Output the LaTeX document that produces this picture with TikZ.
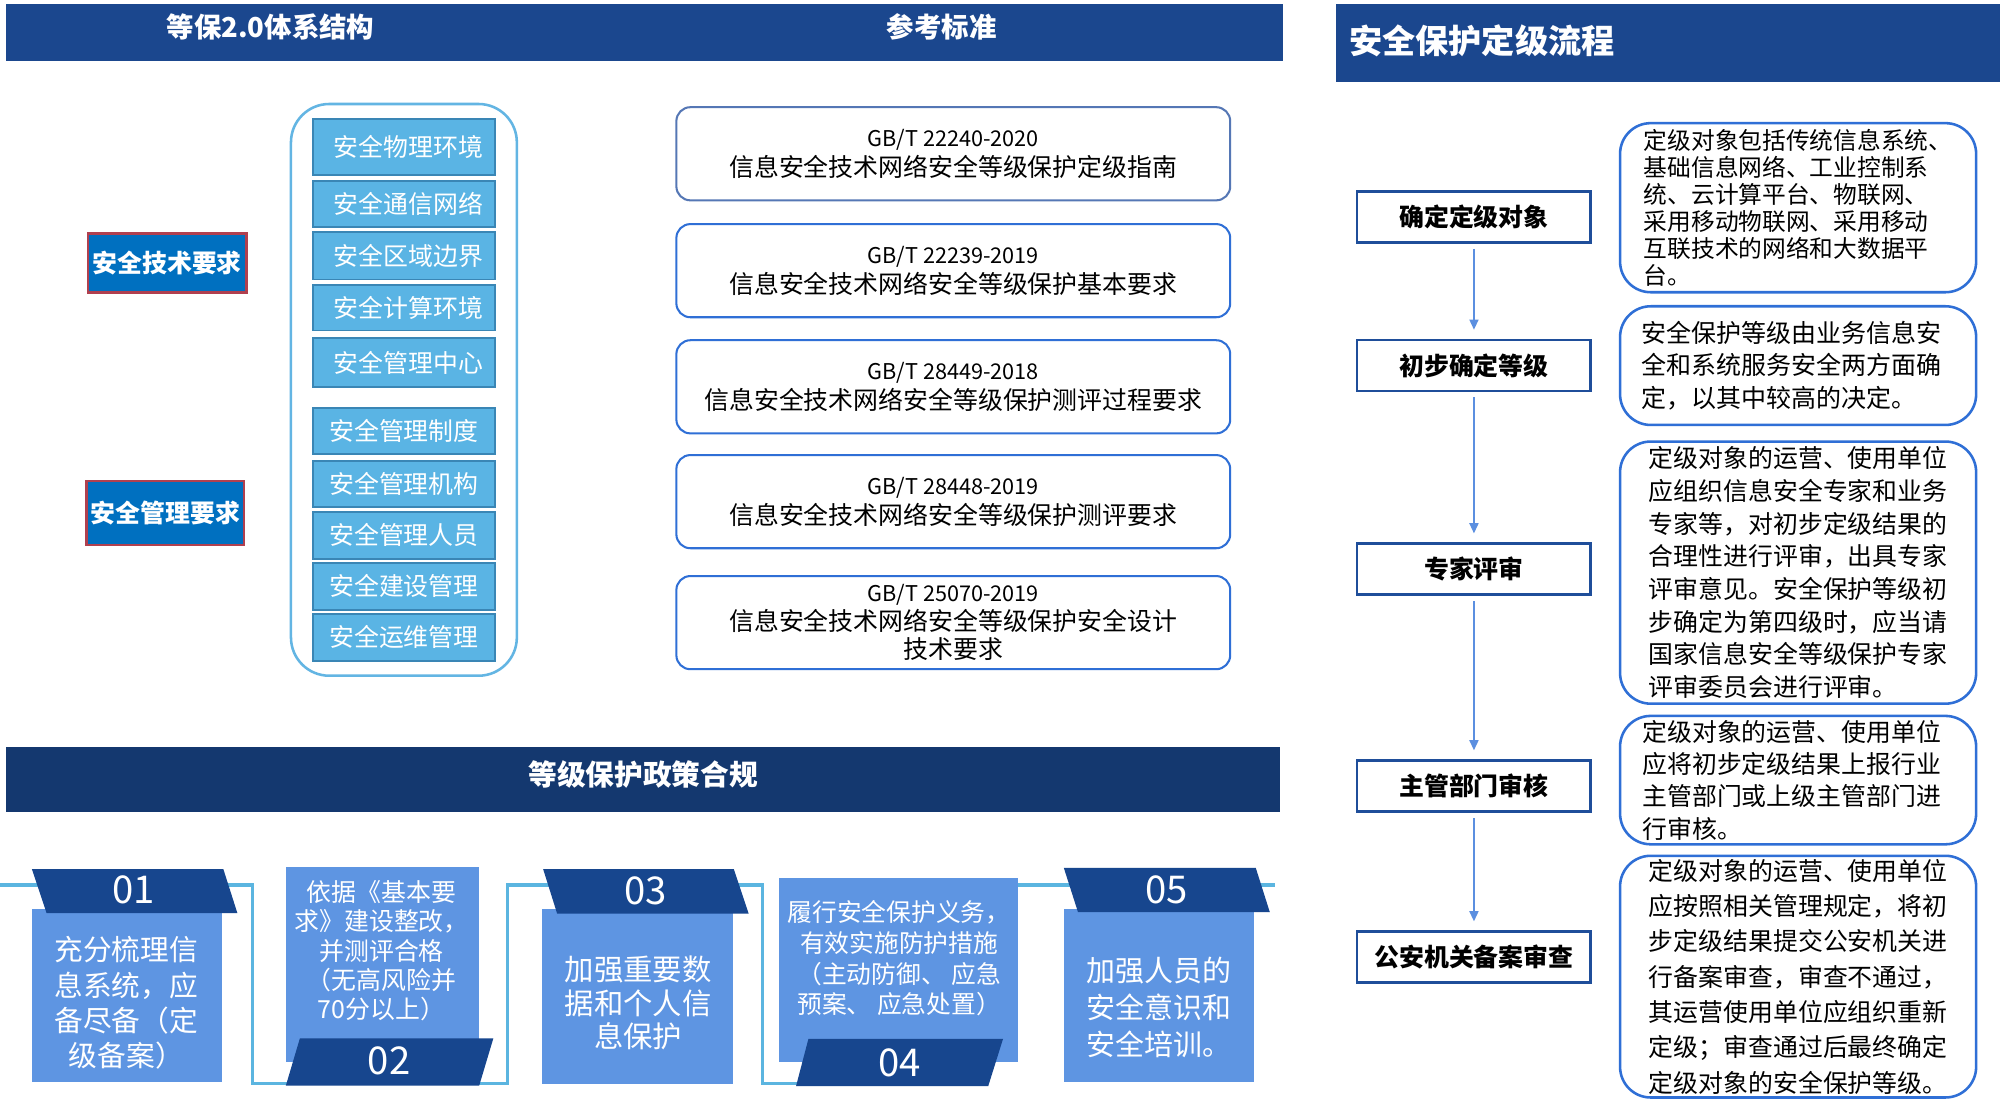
\documentclass[tikz,border=0pt]{standalone}
\usepackage{fontspec}
\setmainfont{Noto Sans CJK SC}
\usepackage{tikz}
\usepackage{xcolor}
\usetikzlibrary{shapes,arrows,positioning,backgrounds,fit,arrows.meta}

\definecolor{barblue}{HTML}{1B478E}
\definecolor{bardark}{HTML}{14386F}
\definecolor{cardblue}{HTML}{5E95E2}
\definecolor{tagblue}{HTML}{17468E}
\definecolor{lineblue}{HTML}{5BB5E0}
\definecolor{itemfill}{HTML}{5AB4E4}
\definecolor{itemedge}{HTML}{3A86B5}
\definecolor{groupedge}{HTML}{63B5E3}
\definecolor{reqfill}{HTML}{0070C0}
\definecolor{reqedge}{HTML}{B0404F}
\definecolor{stdedgeA}{HTML}{5577B5}
\definecolor{stdedge}{HTML}{2F6FD6}
\definecolor{stepedge}{HTML}{1F4E9A}
\definecolor{arrowblue}{HTML}{5B8FE0}

\newcommand{\gbfont}{\fontsize{17}{23.5}\selectfont}

\tikzset{
    bartitle/.style={text=white, font=\bfseries\fontsize{21.5}{21.5}\selectfont},
    partbox/.style={rectangle, draw=itemedge, line width=1.5pt, fill=itemfill, text=white,
                    minimum width=143pt, inner ysep=0pt, outer sep=0pt,
                    font=\fontsize{19.5}{19.5}\selectfont},
    reqbox/.style={rectangle, draw=reqedge, line width=2pt, fill=reqfill, text=white,
                   font=\bfseries\fontsize{19.5}{19.5}\selectfont},
    stdbox/.style={rectangle, draw=stdedge, line width=1.6pt, rounded corners=11pt,
                   minimum width=434pt, minimum height=73pt, align=center,
                   inner sep=0pt, outer sep=0pt, font=\fontsize{19.5}{23.5}\selectfont},
    stepbox/.style={rectangle, draw=stepedge, line width=2pt, fill=white,
                    minimum width=183pt, minimum height=40pt, inner ysep=0pt, outer sep=0pt,
                    font=\bfseries\fontsize{19.5}{19.5}\selectfont},
    nextarrow/.style={-{Triangle[width=7pt,length=8pt]}, draw=arrowblue, line width=1.5pt,
                      shorten <=5pt, shorten >=8pt},
    descbox/.style={rectangle, draw=stdedge, line width=2pt, rounded corners=24pt,
                    minimum width=279pt, outer sep=0pt},
    desctext/.style={align=left, inner sep=0pt},
    cardbody/.style={rectangle, fill=cardblue, inner sep=0pt},
    cardtext/.style={text=white, align=center, inner sep=0pt},
    tagnum/.style={text=white, font=\fontsize{30}{30}\selectfont, inner sep=0pt},
    flow/.style={draw=lineblue, line width=2.5pt}
}

\begin{document}
\begin{tikzpicture}[x=1pt, y=-1pt]
    \useasboundingbox (0,0) rectangle (1568,866);
    \begin{scope}[on background layer]
        \fill[white] (0,0) rectangle (1568,866);
    \end{scope}

    % Title bars
    \fill[barblue] (5,3) rectangle (1005,48);
    \fill[barblue] (1047,3) rectangle (1567,64);
    \fill[bardark] (5,585) rectangle (1003,636);
    \node[bartitle] (archtitle) at (212,21) {等保2.0体系结构};
    \node[bartitle] (stdtitle) at (738,21) {参考标准};
    \node[bartitle, anchor=west, inner sep=0pt, font=\bfseries\fontsize{26}{26}\selectfont]
        (flowtitle) at (1057,32) {安全保护定级流程};
    \node[bartitle, font=\bfseries\fontsize{22.5}{22.5}\selectfont]
        (policytitle) at (504,607) {等级保护政策合规};

    % Requirement groups
    \node[reqbox, minimum width=124pt, minimum height=46pt] (tech) at (131,206) {安全技术要求};
    \node[reqbox, minimum width=123pt, minimum height=50pt] (mgmt) at (129.5,402) {安全管理要求};

    % Control areas
    \node[partbox, minimum height=44pt] (p1) at (316.5,115) {\hspace*{7pt}安全物理环境};
    \node[partbox, minimum height=36pt, below=5pt of p1] (p2) {\hspace*{7pt}安全通信网络};
    \node[partbox, minimum height=37pt, below=4pt of p2] (p3) {\hspace*{7pt}安全区域边界};
    \node[partbox, minimum height=36pt, below=4pt of p3] (p4) {\hspace*{7pt}安全计算环境};
    \node[partbox, minimum height=38pt, below=6pt of p4] (p5) {\hspace*{7pt}安全管理中心};
    \node[partbox, minimum height=36pt, below=17pt of p5] (p6) {安全管理制度};
    \node[partbox, minimum height=36pt, below=5pt of p6] (p7) {安全管理机构};
    \node[partbox, minimum height=37pt, below=4pt of p7] (p8) {安全管理人员};
    \node[partbox, minimum height=37pt, below=3pt of p8] (p9) {安全建设管理};
    \node[partbox, minimum height=37pt, below=3pt of p9] (p10) {安全运维管理};
    \node[fit=(p1)(p10), draw=groupedge, line width=2pt, rounded corners=30pt,
          inner xsep=17pt, inner ysep=11.5pt] (group) {};

    % Reference standards
    \node[stdbox, draw=stdedgeA] (std1) at (747,120.5)
        {{\gbfont GB/T 22240-2020}\\信息安全技术网络安全等级保护定级指南};
    \node[stdbox, below=18.6pt of std1] (std2)
        {{\gbfont GB/T 22239-2019}\\信息安全技术网络安全等级保护基本要求};
    \node[stdbox, below=18pt of std2] (std3)
        {{\gbfont GB/T 28449-2018}\\信息安全技术网络安全等级保护测评过程要求};
    \node[stdbox, below=17pt of std3] (std4)
        {{\gbfont GB/T 28448-2019}\\信息安全技术网络安全等级保护测评要求};
    \node[stdbox, below=21.8pt of std4, font=\fontsize{19.5}{22.5}\selectfont] (std5)
        {{\fontsize{17}{22.5}\selectfont GB/T 25070-2019}\\信息安全技术网络安全等级保护安全设计\\技术要求};

    % Grading steps
    \node[stepbox] (s1) at (1155,170) {确定定级对象};
    \node[stepbox, below=76.4pt of s1] (s2) {初步确定等级};
    \node[stepbox, below=119.6pt of s2] (s3) {专家评审};
    \node[stepbox, below=130pt of s3] (s4) {主管部门审核};
    \node[stepbox, below=94pt of s4] (s5) {公安机关备案审查};
    \draw[nextarrow] (s1) -- (s2);
    \draw[nextarrow] (s2) -- (s3);
    \draw[nextarrow] (s3) -- (s4);
    \draw[nextarrow] (s4) -- (s5);

    % Step notes
    \node[descbox, minimum height=132.5pt] (d1) at (1409,162.75) {};
    \node[descbox, minimum height=93pt, below=11pt of d1] (d2) {};
    \node[descbox, minimum height=205.4pt, below=13pt of d2] (d3) {};
    \node[descbox, minimum height=100.6pt, below=9.6pt of d3] (d4) {};
    \node[descbox, minimum height=189.4pt, below=9pt of d4] (d5) {};
    \node[desctext, font=\fontsize{18.6}{21.2}\selectfont] (d1text) at (d1)
        {定级对象包括传统信息系统、\\基础信息网络、工业控制系\\统、云计算平台、物联网、\\采用移动物联网、采用移动\\互联技术的网络和大数据平\\台。};
    \node[desctext, font=\fontsize{19.6}{25.2}\selectfont, xshift=-5pt] (d2text) at (d2)
        {安全保护等级由业务信息安\\全和系统服务安全两方面确\\定，以其中较高的决定。};
    \node[desctext, font=\fontsize{19.5}{25.6}\selectfont] (d3text) at (d3)
        {定级对象的运营、使用单位\\应组织信息安全专家和业务\\专家等，对初步定级结果的\\合理性进行评审，出具专家\\评审意见。安全保护等级初\\步确定为第四级时，应当请\\国家信息安全等级保护专家\\评审委员会进行评审。};
    \node[desctext, font=\fontsize{19.5}{25.3}\selectfont, xshift=-5pt] (d4text) at (d4)
        {定级对象的运营、使用单位\\应将初步定级结果上报行业\\主管部门或上级主管部门进\\行审核。};
    \node[desctext, font=\fontsize{19.5}{27.7}\selectfont] (d5text) at (d5)
        {定级对象的运营、使用单位\\应按照相关管理规定，将初\\步定级结果提交公安机关进\\行备案审查，审查不通过，\\其运营使用单位应组织重新\\定级；审查通过后最终确定\\定级对象的安全保护等级。};

    % Policy cards
    \node[cardbody, minimum width=148.9pt, minimum height=136pt] (c1) at (99.15,780) {};
    \node[cardbody, minimum width=151.5pt, minimum height=152.5pt] (c2) at (299.75,755.75) {};
    \node[cardbody, minimum width=149.5pt, minimum height=137.6pt] (c3) at (499.75,780.8) {};
    \node[cardbody, minimum width=187.2pt, minimum height=144.3pt] (c4) at (704.4,759.85) {};
    \node[cardbody, minimum width=149pt, minimum height=135.6pt] (c5) at (908.1,779.8) {};
    \fill[tagblue] (25,681) -- (175,681) -- (186,715.5) -- (36.5,715.5) -- cycle;
    \fill[tagblue] (235,813.6) -- (386.6,813.6) -- (375.5,850.7) -- (224,850.7) -- cycle;
    \fill[tagblue] (425.6,681) -- (575,681) -- (586.7,716) -- (436.6,716) -- cycle;
    \fill[tagblue] (633.5,814) -- (786,814) -- (774.4,851) -- (623.8,851) -- cycle;
    \fill[tagblue] (833.6,680) -- (984,680) -- (995,714.7) -- (844.7,714.7) -- cycle;
    \node[tagnum] (n1) at (104.5,697.5) {01};
    \node[tagnum] (n2) at (305,831) {02};
    \node[tagnum] (n3) at (506,698) {03};
    \node[tagnum] (n4) at (705,833) {04};
    \node[tagnum] (n5) at (914.3,697) {05};
    \node[cardtext, font=\fontsize{22.5}{27.7}\selectfont] (t1) at (99,786)
        {充分梳理信\\息系统，应\\备尽备（定\\级备案）};
    \node[cardtext, font=\fontsize{19.5}{23}\selectfont] (t2) at (299,745)
        {依据《基本要\\求》建设整改，\\并测评合格\\（无高风险并\\70分以上）};
    \node[cardtext, font=\fontsize{23}{26.3}\selectfont] (t3) at (500,786)
        {加强重要数\\据和个人信\\息保护};
    \node[cardtext, font=\fontsize{19.4}{24}\selectfont] (t4) at (704.5,751)
        {履行安全保护义务，\\有效实施防护措施\\（主动防御、 应急\\预案、 应急处置）};
    \node[cardtext, font=\fontsize{22.7}{29}\selectfont] (t5) at (908,789.8)
        {加强人员的\\安全意识和\\安全培训。};

    % Timeline behind the cards
    \coordinate (q0) at (0,693.5);
    \coordinate (q1) at (198,848.8);
    \coordinate (q2) at (397.7,693.5);
    \coordinate (q3) at (597.7,848.8);
    \coordinate (q4) at (c4.center |- q0);
    \coordinate (q5) at (999,693.5);
    \begin{scope}[on background layer]
        \draw[flow] (q0) -| (q1) -| (q2) -| (q3) -| (q4) -- (q5);
    \end{scope}
\end{tikzpicture}
\end{document}
